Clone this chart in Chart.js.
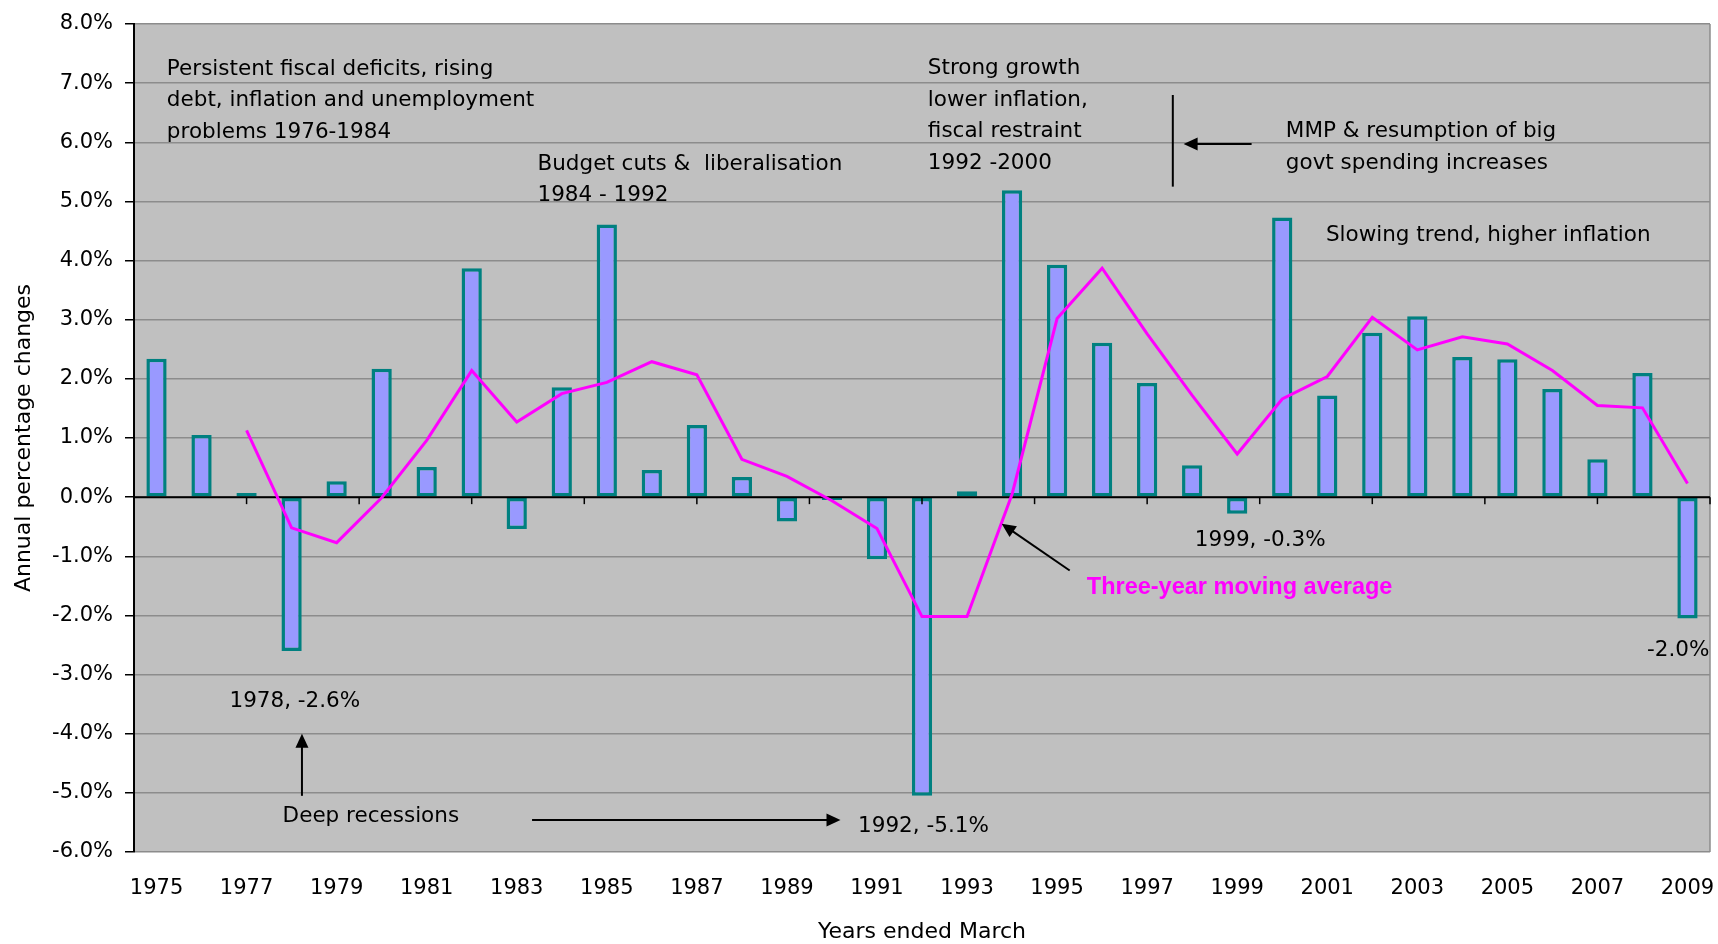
<html>
<head>
  <meta name="viewport" content="width=device-width, initial-scale=1">
  <script type="text/javascript" src="https://cdn.jsdelivr.net/npm/chart.js@4/dist/chart.umd.min.js"></script>
  <style>
    body { margin: 0; background: #fff; }
  </style>
</head>
<body>
  <canvas id="ctx" width="1718" height="944"></canvas>

  <script type="text/javascript">

    // years ended March
    years = ['1975', '1976', '1977', '1978', '1979', '1980', '1981', '1982', '1983', '1984',
             '1985', '1986', '1987', '1988', '1989', '1990', '1991', '1992', '1993', '1994',
             '1995', '1996', '1997', '1998', '1999', '2000', '2001', '2002', '2003', '2004',
             '2005', '2006', '2007', '2008', '2009'];

    // only every second year gets a label
    tickYears = ['1975', '1977', '1979', '1981', '1983', '1985', '1987', '1989', '1991', '1993',
                 '1995', '1997', '1999', '2001', '2003', '2005', '2007', '2009'];

    // annual % change
    growth = [2.34, 1.05, 0.07, -2.6, 0.27, 2.17, 0.51, 3.87, -0.54, 1.86,
              4.61, 0.46, 1.22, 0.34, -0.41, -0.05, -1.05, -5.05, 0.10, 5.19,
              3.93, 2.61, 1.93, 0.54, -0.28, 4.73, 1.72, 2.78, 3.06, 2.37,
              2.33, 1.83, 0.64, 2.10, -2.05];

    // three-year moving average (starts 1977)
    movingAvg = [null, null, 1.13, -0.52, -0.77, -0.01, 0.96, 2.14, 1.27, 1.75,
                 1.94, 2.29, 2.07, 0.64, 0.35, -0.06, -0.53, -2.02, -2.02, 0.05,
                 3.02, 3.87, 2.76, 1.72, 0.73, 1.66, 2.04, 3.04, 2.49, 2.71,
                 2.59, 2.14, 1.55, 1.51, 0.23];

    // text notes, placed in [category index, value] space
    notes = [
      {at: [0.23, 7.24], lines: ['Persistent fiscal deficits, rising', 'debt, inflation and unemployment', 'problems 1976-1984']},
      {at: [8.46, 5.63], lines: ['Budget cuts &  liberalisation', '1984 - 1992']},
      {at: [17.13, 7.25], lines: ['Strong growth', 'lower inflation,', 'fiscal restraint', '1992 -2000']},
      {at: [25.08, 6.18], lines: ['MMP & resumption of big', 'govt spending increases']},
      {at: [25.97, 4.43], lines: ['Slowing trend, higher inflation']},
      {at: [1.62, -3.46], lines: ['1978, -2.6%']},
      {at: [2.8, -5.4], lines: ['Deep recessions']},
      {at: [15.58, -5.57], lines: ['1992, -5.1%']},
      {at: [23.06, -0.73], lines: ['1999, -0.3%']},
      {at: [33.1, -2.59], lines: ['-2.0%']}
    ];
    maNote = {at: [20.66, -1.53], text: 'Three-year moving average'};

    arrows = [
      {from: [3.23, -5.05], to: [3.23, -4.0]},
      {from: [8.34, -5.46], to: [15.19, -5.46]},
      {from: [20.28, -1.24], to: [18.77, -0.45]},
      {from: [24.32, 5.97], to: [22.81, 5.97]}
    ];
    marker = {from: [22.57, 6.8], to: [22.57, 5.25]};

    textFont = '21.5px "DejaVu Sans"';
    lineGap = 31.7;

    function drawArrow(ctx, x1, y1, x2, y2) {
      var ang = Math.atan2(y2 - y1, x2 - x1);
      var hl = 14, hw = 6.5;
      ctx.beginPath();
      ctx.moveTo(x1, y1);
      ctx.lineTo(x2 - Math.cos(ang) * hl * 0.8, y2 - Math.sin(ang) * hl * 0.8);
      ctx.stroke();
      ctx.beginPath();
      ctx.moveTo(x2, y2);
      ctx.lineTo(x2 - Math.cos(ang) * hl - Math.sin(ang) * hw, y2 - Math.sin(ang) * hl + Math.cos(ang) * hw);
      ctx.lineTo(x2 - Math.cos(ang) * hl + Math.sin(ang) * hw, y2 - Math.sin(ang) * hl - Math.cos(ang) * hw);
      ctx.closePath();
      ctx.fill();
    }

    notesPlugin = {
      id: 'notes',
      beforeDraw: function(chart) {
        var ctx = chart.ctx, a = chart.chartArea;
        ctx.save();
        ctx.fillStyle = '#c0c0c0';
        ctx.fillRect(a.left, a.top, a.right - a.left, a.bottom - a.top);
        ctx.strokeStyle = '#8c8c8c';
        ctx.lineWidth = 1.5;
        ctx.beginPath();
        ctx.moveTo(a.right, a.top);
        ctx.lineTo(a.right, a.bottom);
        ctx.stroke();
        ctx.restore();
      },
      afterDatasetDraw: function(chart, args) {
        if (args.index !== 1) return; // after the bars, before the line
        var ctx = chart.ctx, a = chart.chartArea;
        var xs = chart.scales.x, ys = chart.scales.y;
        var y0 = ys.getPixelForValue(0);
        ctx.save();
        ctx.strokeStyle = '#000';
        ctx.lineWidth = 2;
        ctx.beginPath();
        ctx.moveTo(a.left, y0);
        ctx.lineTo(a.right, y0);
        ctx.stroke();
        // category axis tick marks every 2.5 categories
        ctx.lineWidth = 1.5;
        for (k = 1; k * 2.5 <= years.length; k++) {
          var tx = xs.getPixelForValue(k * 2.5 - 0.5);
          ctx.beginPath();
          ctx.moveTo(tx, y0);
          ctx.lineTo(tx, y0 + 7);
          ctx.stroke();
        }
        ctx.restore();
      },
      afterDraw: function(chart) {
        var ctx = chart.ctx;
        var xs = chart.scales.x, ys = chart.scales.y;
        var X = function(v) { return xs.getPixelForValue(v); };
        var Y = function(v) { return ys.getPixelForValue(v); };
        ctx.save();
        ctx.fillStyle = '#000';
        ctx.strokeStyle = '#000';
        ctx.textAlign = 'left';
        ctx.textBaseline = 'middle';
        ctx.font = textFont;
        notes.forEach(function(n) {
          n.lines.forEach(function(t, i) {
            ctx.fillText(t, X(n.at[0]), Y(n.at[1]) + i * lineGap);
          });
        });

        ctx.lineWidth = 2;
        arrows.forEach(function(ar) {
          drawArrow(ctx, X(ar.from[0]), Y(ar.from[1]), X(ar.to[0]), Y(ar.to[1]));
        });
        ctx.beginPath();
        ctx.moveTo(X(marker.from[0]), Y(marker.from[1]));
        ctx.lineTo(X(marker.to[0]), Y(marker.to[1]));
        ctx.stroke();

        ctx.fillStyle = '#ff00ff';
        ctx.font = 'bold 23.5px "Liberation Sans", Arial';
        ctx.fillText(maNote.text, X(maNote.at[0]), Y(maNote.at[1]));
        ctx.restore();
      }
    };

    chart = new Chart(document.getElementById('ctx'), {
      type: 'bar',
      data: {
        labels: years,
        datasets: [{
          type: 'line',
          data: movingAvg,
          borderColor: '#ff00ff',
          borderWidth: 3,
          pointRadius: 0,
          tension: 0,
          order: 0
        }, {
          type: 'bar',
          data: growth,
          backgroundColor: '#9999ff',
          borderColor: '#008080',
          borderWidth: 3.5,
          borderSkipped: false,
          barPercentage: 0.45,
          categoryPercentage: 1,
          order: 1
        }]
      },
      options: {
        responsive: false,
        animation: false,
        devicePixelRatio: 1,
        layout: {padding: {top: 24, right: 8, left: 0, bottom: 0}},
        plugins: {
          legend: {display: false},
          tooltip: {enabled: false}
        },
        scales: {
          x: {
            grid: {display: false, drawTicks: false},
            border: {display: false},
            ticks: {
              autoSkip: false,
              maxRotation: 0,
              minRotation: 0,
              padding: 24,
              color: '#000',
              font: {family: 'DejaVu Sans', size: 21},
              callback: function(v, i) {
                return tickYears.indexOf(years[i]) >= 0 ? years[i] : '';
              }
            },
            title: {
              display: true,
              text: 'Years ended March',
              color: '#000',
              font: {family: 'DejaVu Sans', size: 22, lineHeight: 1},
              padding: {top: 0, bottom: 1}
            },
            afterFit: function(s) { s.height = 92; s.paddingLeft = 0; s.paddingRight = 0; }
          },
          y: {
            min: -6,
            max: 8,
            ticks: {
              stepSize: 1,
              padding: 12,
              color: '#000',
              font: {family: 'DejaVu Sans', size: 21},
              callback: function(v) { return v.toFixed(1) + '%'; }
            },
            grid: {
              color: '#8c8c8c',
              lineWidth: 1.5,
              tickLength: 9,
              tickColor: '#000',
              tickWidth: 1.5
            },
            border: {color: '#000', width: 2},
            title: {
              display: true,
              text: 'Annual percentage changes',
              color: '#000',
              font: {family: 'DejaVu Sans', size: 22, lineHeight: 1},
              padding: {top: 13, bottom: 0}
            },
            afterFit: function(s) { s.width = 134; s.paddingTop = 0; s.paddingBottom = 0; }
          }
        }
      },
      plugins: [notesPlugin]
    });

  </script>
</body>
</html>
